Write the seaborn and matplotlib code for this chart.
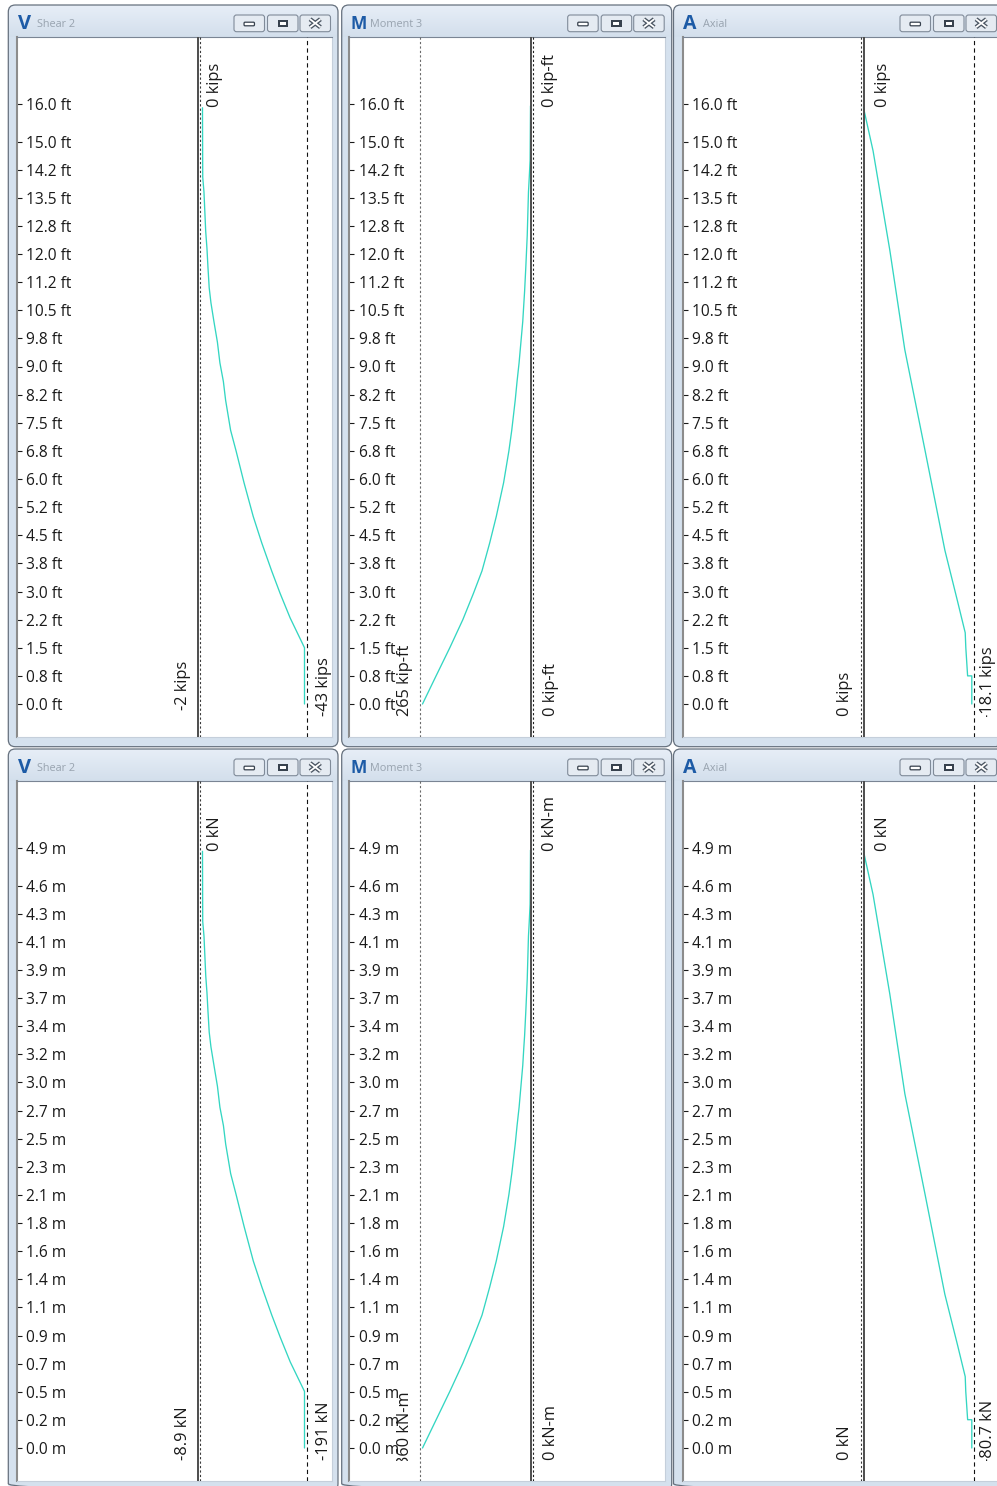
import matplotlib
matplotlib.use("Agg")
import numpy as np
import matplotlib.pyplot as plt
import seaborn as sns
from matplotlib.patches import FancyBboxPatch, Rectangle
from matplotlib.colors import LinearSegmentedColormap
from matplotlib.transforms import Affine2D

sns.set_theme(style="white")
plt.rcParams["font.family"] = ["Open Sans", "DejaVu Sans"]

# ---------------------------------------------------------------------------
# Station marks along the member
# ---------------------------------------------------------------------------
FT_TICKS = [0.0, 0.75, 1.5, 2.25, 3.0, 3.75, 4.5, 5.25, 6.0, 6.75, 7.5,
            8.25, 9.0, 9.75, 10.5, 11.25, 12.0, 12.75, 13.5, 14.25, 15.0, 16.0]
FT_LABELS = ["0.0 ft", "0.8 ft", "1.5 ft", "2.2 ft", "3.0 ft", "3.8 ft",
             "4.5 ft", "5.2 ft", "6.0 ft", "6.8 ft", "7.5 ft", "8.2 ft",
             "9.0 ft", "9.8 ft", "10.5 ft", "11.2 ft", "12.0 ft", "12.8 ft",
             "13.5 ft", "14.2 ft", "15.0 ft", "16.0 ft"]
M_TICKS = [0.0, 0.229, 0.457, 0.686, 0.914, 1.143, 1.372, 1.600, 1.829,
           2.057, 2.286, 2.515, 2.743, 2.972, 3.200, 3.429, 3.658, 3.886,
           4.115, 4.343, 4.572, 4.877]
M_LABELS = ["0.0 m", "0.2 m", "0.5 m", "0.7 m", "0.9 m", "1.1 m", "1.4 m",
            "1.6 m", "1.8 m", "2.1 m", "2.3 m", "2.5 m", "2.7 m", "3.0 m",
            "3.2 m", "3.4 m", "3.7 m", "3.9 m", "4.1 m", "4.3 m", "4.6 m",
            "4.9 m"]
FT_TOP = 16.0
M_TOP = 4.877

# ---------------------------------------------------------------------------
# Force diagrams, US units
# ---------------------------------------------------------------------------
SHEAR_H_FT = [15.9, 14.05, 13.65, 12.6, 12.15, 11.65, 11.1, 10.7, 10.2, 9.65,
              9.1, 8.6, 8.1, 7.3, 6.75, 5.9, 5.0, 4.3, 3.55, 2.95, 2.3, 1.5, 0.0]
SHEAR_KIPS = [-2.0, -2.1, -2.6, -3.3, -3.8, -4.2, -4.7, -5.4, -6.6, -8.0,
              -9.0, -10.4, -11.3, -13.3, -15.5, -18.7, -22.4, -25.8, -29.8,
              -33.2, -37.2, -43.0, -43.0]

MOMENT_H_FT = [15.95, 14.5, 14.05, 13.65, 12.5, 11.65, 11.0, 10.65, 10.2, 9.65,
               9.1, 8.6, 8.1, 7.3, 6.75, 5.9, 5.0, 4.3, 3.55, 2.95, 2.25, 1.5,
               0.72, 0.0]
MOMENT_KIPFT = [0.0, 1.0, 3.0, 5.0, 8.0, 11.5, 14.5, 16.5, 19.0, 23.5, 28.0,
                33.0, 37.5, 46.0, 53.0, 66.0, 84.0, 100.0, 119.0, 140.0, 166.0,
                198.0, 233.0, 265.0]

AXIAL_H_FT = [15.9, 14.75, 12.1, 9.45, 6.75, 4.1, 2.75, 1.9, 1.5, 0.75, 0.75, 0.0]
AXIAL_KIPS = [0.0, -1.6, -4.4, -6.9, -10.3, -13.6, -15.7, -17.0, -17.1, -17.4,
              -18.1, -18.1]

# ---------------------------------------------------------------------------
# Force diagrams, SI units
# ---------------------------------------------------------------------------
SHEAR_H_M = [4.85, 4.28, 4.16, 3.84, 3.70, 3.55, 3.38, 3.26, 3.11, 2.94, 2.77,
             2.62, 2.47, 2.23, 2.06, 1.80, 1.52, 1.31, 1.08, 0.90, 0.70, 0.46, 0.0]
SHEAR_KN = [-8.9, -9.3, -11.6, -14.7, -16.9, -18.7, -20.9, -24.0, -29.4, -35.6,
            -40.0, -46.3, -50.3, -59.2, -68.9, -83.2, -99.6, -114.8, -132.6,
            -147.7, -165.5, -191.0, -191.0]

MOMENT_H_M = [4.86, 4.42, 4.28, 4.16, 3.81, 3.55, 3.35, 3.25, 3.11, 2.94, 2.77,
              2.62, 2.47, 2.23, 2.06, 1.80, 1.52, 1.31, 1.08, 0.90, 0.69, 0.46,
              0.22, 0.0]
MOMENT_KNM = [0.0, 1.4, 4.1, 6.8, 10.9, 15.6, 19.7, 22.4, 25.8, 31.9, 38.0,
              44.8, 50.9, 62.5, 72.0, 89.6, 114.1, 135.8, 161.6, 190.1, 225.4,
              268.9, 316.4, 360.0]

AXIAL_H_M = [4.85, 4.50, 3.69, 2.88, 2.06, 1.25, 0.84, 0.58, 0.46, 0.23, 0.23, 0.0]
AXIAL_KN = [0.0, -7.1, -19.6, -30.8, -45.9, -60.6, -70.0, -75.8, -76.2, -77.6,
            -80.7, -80.7]

# Envelope of each diagram: (max, min)
SHEAR_US_RANGE = (-2.0, -43.0)
MOMENT_US_RANGE = (265.0, 0.0)
AXIAL_US_RANGE = (0.0, -18.1)
SHEAR_SI_RANGE = (-8.9, -191.0)
MOMENT_SI_RANGE = (360.0, 0.0)
AXIAL_SI_RANGE = (0.0, -80.7)

# Scale captions: (zero, max, min)
SHEAR_US_TEXT = ["0 kips", "-2 kips", "-43 kips"]
MOMENT_US_TEXT = ["0 kip-ft", "265 kip-ft", "0 kip-ft"]
AXIAL_US_TEXT = ["0 kips", "0 kips", "-18.1 kips"]
SHEAR_SI_TEXT = ["0 kN", "-8.9 kN", "-191 kN"]
MOMENT_SI_TEXT = ["0 kN-m", "360 kN-m", "0 kN-m"]
AXIAL_SI_TEXT = ["0 kN", "0 kN", "-80.7 kN"]

WINDOW_ICONS = ["V", "M", "A"]
WINDOW_TITLES = ["Shear 2", "Moment 3", "Axial"]

# ---------------------------------------------------------------------------
# Screen layout (pixels)
# ---------------------------------------------------------------------------
W, H = 997, 1486
WIN_X = [(8.3, 338.0), (341.7, 671.7), (673.5, 1004.0)]
PLOT_X = [(16.7, 331.7), (349.3, 665.0), (682.7, 999.0)]
ROW_Y = [0.0, 744.0]
WIN_TOP, PLOT_TOP, PLOT_BOTTOM, WIN_BOTTOM = 5.0, 36.7, 736.7, 746.7
BASE_Y, TOPTICK_Y = 704.0, 104.0
CLIP_Y = 716.8

ICON_SIZE = [14.5, 12.5, 14.0]
ICON_DX = [9.5, 8.3, 9.3]
TITLE_DX = [28.7, 28.3, 29.5]

# per column: zero line x, x of the largest |value| line and which end it is
ZERO_PX = [197.5, 530.5, 863.5]
SCALE_PX = [304.5, 422.5, 971.8]
SCALE_END = [1, 0, 1]          # index into the (max, min) envelope
LINE_STYLE = [((0, (2, 2)), "#3a3a3a", (0, (3.8, 2.9)), "#111111"),
              ((0, (2, 2)), "#6a6a6a", (0, (2, 2)), "#222222"),
              ((0, (2, 2)), "#3a3a3a", (0, (3.8, 2.9)), "#111111")]
# caption anchors: (zero x, max x, min x) and bottom ends of the lower captions
CAPTION_X = [(214.5, 182.5, 324.0), (550.0, 404.5, 551.0), (883.0, 844.5, 987.5)]
CAPTION_BOTTOM = {0: [(710.5, 716.5), (716.5, 716.5)],
                  1: [(716.5, 716.5), (721.0, 716.5)],
                  2: [(716.5, 719.0), (716.5, 719.0)]}

TEAL = "#34d6c2"
FRAME = "#d5e1ee"
BORDER = "#66717e"
TEXT = "#1a1a1a"

PANELS = [
    (0, 0, SHEAR_H_FT, SHEAR_KIPS, SHEAR_US_RANGE, SHEAR_US_TEXT, FT_TICKS, FT_LABELS, FT_TOP),
    (0, 1, MOMENT_H_FT, MOMENT_KIPFT, MOMENT_US_RANGE, MOMENT_US_TEXT, FT_TICKS, FT_LABELS, FT_TOP),
    (0, 2, AXIAL_H_FT, AXIAL_KIPS, AXIAL_US_RANGE, AXIAL_US_TEXT, FT_TICKS, FT_LABELS, FT_TOP),
    (1, 0, SHEAR_H_M, SHEAR_KN, SHEAR_SI_RANGE, SHEAR_SI_TEXT, M_TICKS, M_LABELS, M_TOP),
    (1, 1, MOMENT_H_M, MOMENT_KNM, MOMENT_SI_RANGE, MOMENT_SI_TEXT, M_TICKS, M_LABELS, M_TOP),
    (1, 2, AXIAL_H_M, AXIAL_KN, AXIAL_SI_RANGE, AXIAL_SI_TEXT, M_TICKS, M_LABELS, M_TOP),
]

fig = plt.figure(figsize=(W / 100, H / 100), dpi=100)
fig.patch.set_facecolor("white")
bg = fig.add_axes([0, 0, 1, 1], zorder=0)
bg.set_axis_off()

title_cmap = LinearSegmentedColormap.from_list("titlebar", ["#e7eef7", "#d3dfec"])
grad = np.linspace(0, 1, 64).reshape(-1, 1)


def draw_window(row, col):
    y0 = ROW_Y[row]
    wl, wr = WIN_X[col]
    shape = FancyBboxPatch((wl, y0 + WIN_TOP), wr - wl, WIN_BOTTOM - WIN_TOP,
                           boxstyle="round,pad=0,rounding_size=7",
                           fc=FRAME, ec="none", zorder=1)
    bg.add_patch(shape)
    im = bg.imshow(grad, extent=(wl, wr, y0 + PLOT_TOP, y0 + WIN_TOP),
                   cmap=title_cmap, aspect="auto", interpolation="bilinear",
                   zorder=1.5)
    im.set_clip_path(shape)
    bg.add_patch(FancyBboxPatch((wl, y0 + WIN_TOP), wr - wl, WIN_BOTTOM - WIN_TOP,
                                boxstyle="round,pad=0,rounding_size=7",
                                fc="none", ec=BORDER, lw=0.9, zorder=3))
    # caption icon and title
    bg.text(wl + ICON_DX[col], y0 + 24.0, WINDOW_ICONS[col], fontsize=ICON_SIZE[col],
            fontweight="bold", color="#1d5ba6", ha="left", va="center", zorder=4)
    bg.text(wl + TITLE_DX[col], y0 + 24.5, WINDOW_TITLES[col], fontsize=7.8,
            color="#98a3af", ha="left", va="center", zorder=4)
    # caption buttons: minimise, restore, close
    for k, off in enumerate([104.0, 70.5, 38.0]):
        bx = wr - off
        bg.add_patch(FancyBboxPatch((bx, y0 + 15.0), 30.5, 16.7,
                                    boxstyle="round,pad=0,rounding_size=2.5",
                                    fc="#e5ebf2", ec="#808b99", lw=0.8, zorder=4))
        cx, cy = bx + 15.25, y0 + 23.4
        if k == 0:
            bg.add_patch(FancyBboxPatch((cx - 5.2, cy - 1.2), 10.4, 3.6,
                                        boxstyle="round,pad=0,rounding_size=1",
                                        fc="white", ec="#38424e", lw=0.9, zorder=5))
        elif k == 1:
            bg.add_patch(Rectangle((cx - 5.2, cy - 3.6), 10.4, 7.0,
                                   fc="#38424e", ec="none", zorder=5))
            bg.add_patch(Rectangle((cx - 3.0, cy - 1.2), 6.0, 3.0,
                                   fc="white", ec="none", zorder=6))
        else:
            for lw, c in [(3.2, "#4a5562"), (1.3, "white")]:
                bg.plot([cx - 5.2, cx + 5.2], [cy - 4.2, cy + 3.8], color=c,
                        lw=lw, solid_capstyle="butt", zorder=5 + (c == "white"))
                bg.plot([cx - 5.2, cx + 5.2], [cy + 3.8, cy - 4.2], color=c,
                        lw=lw, solid_capstyle="butt", zorder=5 + (c == "white"))


def draw_panel(row, col, heights, values, env, captions, ticks, tick_labels, top):
    y0 = ROW_Y[row]
    pl, pr = PLOT_X[col]
    ax = fig.add_axes([pl / W, 1 - (y0 + PLOT_BOTTOM) / H,
                       (pr - pl) / W, (PLOT_BOTTOM - PLOT_TOP) / H], zorder=2)
    ax.set_facecolor("white")

    sns.lineplot(x=values, y=heights, sort=False, estimator=None, ax=ax,
                 color=TEAL, linewidth=0.95, zorder=2, legend=False)

    # zero axis of the diagram
    ax.axvline(0.0, color="#4d4d4d", lw=1.4, zorder=3)
    # envelope lines, nudged outward so they stay clear of the diagram
    st_max, c_max, st_min, c_min = LINE_STYLE[col]
    for val, dx, st, c in [(env[0], -2.6, st_max, c_max), (env[1], 2.6, st_min, c_min)]:
        tr = ax.get_xaxis_transform() + Affine2D().translate(dx, 0)
        ax.plot([val, val], [0, 1], transform=tr, color=c, lw=0.8,
                linestyle=st, zorder=3)

    # station ticks and their captions inside the plot
    ax.set_yticks(ticks)
    ax.set_xticks([])
    ax.tick_params(axis="y", which="major", left=True, direction="in",
                   length=3.4, width=0.8, color=TEXT, labelleft=False)
    for t, lab in zip(ticks, tick_labels):
        ax.text(9.3 / (pr - pl), t, lab, transform=ax.get_yaxis_transform(),
                ha="left", va="center_baseline", fontsize=11.2, color=TEXT,
                zorder=4)

    for side, sp in ax.spines.items():
        sp.set_visible(True)
    ax.spines["left"].set_color("#8c8c8c")
    ax.spines["left"].set_linewidth(1.5)
    ax.spines["top"].set_color("#7a8594")
    ax.spines["top"].set_linewidth(0.8)
    ax.spines["right"].set_color("#c5cfdb")
    ax.spines["bottom"].set_color("#c5cfdb")
    ax.spines["right"].set_linewidth(0.8)
    ax.spines["bottom"].set_linewidth(0.8)
    ax.set_xlabel("")
    ax.set_ylabel("")

    # scales: pixels per unit along both directions
    ppu_y = (BASE_Y - TOPTICK_Y) / top
    ax.set_ylim((BASE_Y - PLOT_BOTTOM) / ppu_y, (BASE_Y - PLOT_TOP) / ppu_y)
    ppu_x = (SCALE_PX[col] - ZERO_PX[col]) / env[SCALE_END[col]]
    ax.set_xlim((pl - ZERO_PX[col]) / ppu_x, (pr - ZERO_PX[col]) / ppu_x)

    # rotated scale captions
    xz, xmax, xmin = CAPTION_X[col]
    ax.text(xz, y0 + 107.0, captions[0], rotation=90, ha="center", va="bottom",
            fontsize=11.8, color=TEXT, transform=bg.transData, zorder=5)
    clip = Rectangle((pl, y0 + PLOT_TOP), pr - pl, CLIP_Y - PLOT_TOP,
                     transform=bg.transData, fc="none", ec="none")
    bottoms = CAPTION_BOTTOM[col][row]
    for x, text, yb in [(xmax, captions[1], bottoms[0]), (xmin, captions[2], bottoms[1])]:
        t = ax.text(x, y0 + yb, text, rotation=90, ha="center", va="bottom",
                    fontsize=11.8, color=TEXT, transform=bg.transData, zorder=5,
                    clip_on=True)
        t.set_clip_path(clip)


for row in range(2):
    for col in range(3):
        draw_window(row, col)

bg.set_xlim(0, W)
bg.set_ylim(H, 0)

for spec in PANELS:
    draw_panel(*spec)

fig.savefig("out.png", dpi=100, facecolor="white")
